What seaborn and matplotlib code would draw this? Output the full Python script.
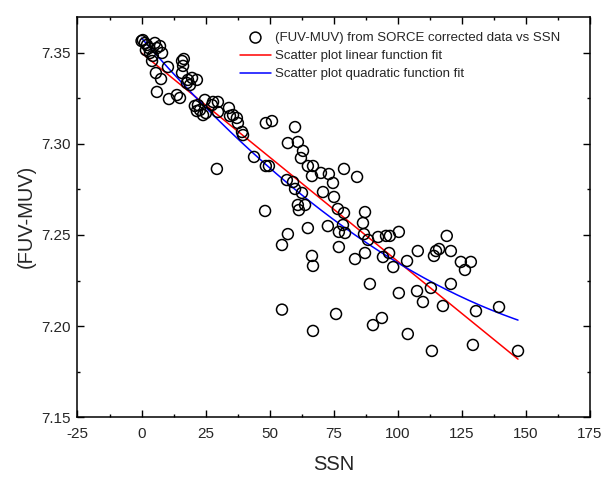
import numpy as np
import pandas as pd
import matplotlib
matplotlib.use("Agg")
import matplotlib.pyplot as plt
import seaborn as sns
from matplotlib.ticker import MultipleLocator, FormatStrFormatter

# ---- data ----
ssn = [0.0, 0.5, 1.3, 2.1, 2.9, 5.2, 7.2, 6.0, 3.3, 8.0, 4.4, 4.1, 10.3, 5.6, 7.6, 6.0, 1.7,
       15.8, 16.5, 16.2, 15.8, 19.7, 21.6, 18.1, 17.7, 18.9, 10.7, 13.8, 15.0, 24.7, 27.9, 29.8,
       27.5, 20.8, 22.0, 21.6, 22.8, 25.1, 24.0, 29.8, 34.1, 34.5, 35.7, 37.2, 37.6, 39.2, 39.6,
       43.9, 29.4, 48.5, 50.9, 59.9, 57.1, 61.0, 63.0, 62.2, 64.9, 66.9, 66.5, 70.0, 73.1, 74.7,
       79.0, 84.1, 56.7, 59.1, 59.9, 62.6, 70.8, 75.1, 48.2, 61.0, 63.8, 61.4, 76.6, 79.0, 87.2,
       86.4, 64.9, 72.7, 78.6, 77.0, 79.4, 57.1, 86.8, 88.4, 92.3, 95.4, 96.9, 100.4, 54.8, 77.0,
       87.2, 66.5, 83.3, 94.2, 96.6, 48.5, 49.7, 66.9, 89.1, 100.4, 54.8, 75.9, 66.9, 93.8, 90.3,
       103.9, 113.3, 129.3, 146.9, 119.1, 107.8, 114.9, 116.1, 120.7, 114.1, 124.6, 128.5, 126.2,
       120.7, 112.9, 107.5, 109.8, 117.6, 130.5, 139.5, 103.6, 98.2]
fuv_muv = [7.3566, 7.3571, 7.3555, 7.3544, 7.3527, 7.3555, 7.3538, 7.3527, 7.3500, 7.3500, 7.3484,
           7.3456, 7.3423, 7.3390, 7.3357, 7.3286, 7.3516,
           7.3456, 7.3467, 7.3429, 7.3390, 7.3363, 7.3352, 7.3352, 7.3335, 7.3324, 7.3247, 7.3269,
           7.3253, 7.3242, 7.3231, 7.3231, 7.3214, 7.3209, 7.3214, 7.3181, 7.3187, 7.3170, 7.3159,
           7.3176, 7.3198, 7.3154, 7.3159, 7.3143, 7.3115, 7.3066, 7.3049,
           7.2929, 7.2863, 7.3115, 7.3126, 7.3093, 7.3005, 7.3011, 7.2962, 7.2923, 7.2879, 7.2879,
           7.2824, 7.2841, 7.2835, 7.2786, 7.2863, 7.2819, 7.2802, 7.2791, 7.2753, 7.2731, 7.2736,
           7.2709, 7.2632, 7.2665, 7.2665, 7.2637, 7.2643, 7.2621, 7.2626, 7.2566, 7.2538, 7.2549,
           7.2555, 7.2517, 7.2511, 7.2505, 7.2505, 7.2473, 7.2489, 7.2495, 7.2495, 7.2517, 7.2445,
           7.2434, 7.2401, 7.2385, 7.2368, 7.2379, 7.2401, 7.2879, 7.2879, 7.2330, 7.2231, 7.2181,
           7.2090, 7.2066, 7.1973, 7.2044, 7.2005, 7.1956, 7.1863, 7.1896, 7.1863, 7.2495, 7.2412,
           7.2412, 7.2423, 7.2412, 7.2385, 7.2352, 7.2352, 7.2308, 7.2231, 7.2209, 7.2192, 7.2132,
           7.2110, 7.2082, 7.2104, 7.2357, 7.2324]

# fit coefficients (intercept, slope, quadratic term)
linear_fit = [7.3500, -0.001145]
quadratic_fit = [7.35817, -0.0016174, 3.831e-6]

labels = ["(FUV-MUV) from SORCE corrected data vs SSN",
          "Scatter plot linear function fit",
          "Scatter plot quadratic function fit"]
x_ticks = [-25, 0, 25, 50, 75, 100, 125, 150, 175]
y_ticks = [7.15, 7.20, 7.25, 7.30, 7.35]

# ---- build frames ----
df = pd.DataFrame({"SSN": ssn, "FUV_MUV": fuv_muv})
xf = np.linspace(min(ssn), max(ssn), 200)
fit_df = pd.DataFrame({
    "SSN": xf,
    "linear": linear_fit[0] + linear_fit[1] * xf,
    "quadratic": quadratic_fit[0] + quadratic_fit[1] * xf + quadratic_fit[2] * xf ** 2,
})

sns.set_style("ticks")
plt.rcParams["font.family"] = ["Liberation Sans", "DejaVu Sans"]
plt.rcParams["axes.unicode_minus"] = False

fig = plt.figure(figsize=(6.13, 4.78), dpi=100)
ax = fig.add_axes([0.1264, 0.1276, 0.8361, 0.8377])

sns.scatterplot(data=df, x="SSN", y="FUV_MUV", ax=ax, marker="o", s=62,
                facecolor="none", edgecolor="black", linewidth=1.1,
                label=labels[0], zorder=3)
sns.lineplot(data=fit_df, x="SSN", y="linear", ax=ax, color="#ff0000",
             linewidth=1.1, label=labels[1], zorder=2)
sns.lineplot(data=fit_df, x="SSN", y="quadratic", ax=ax, color="#0000ff",
             linewidth=1.1, label=labels[2], zorder=2)

ax.set_xlim(x_ticks[0], x_ticks[-1])
ax.set_ylim(7.15, 7.37)
ax.set_xticks(x_ticks)
ax.set_yticks(y_ticks)
ax.xaxis.set_minor_locator(MultipleLocator(12.5))
ax.yaxis.set_minor_locator(MultipleLocator(0.025))
ax.yaxis.set_major_formatter(FormatStrFormatter("%.2f"))

ax.tick_params(which="both", direction="in", top=True, right=True,
               width=1.0, color="black")
ax.tick_params(which="major", length=5, labelsize=11)
ax.tick_params(axis="x", which="major", pad=7)
ax.tick_params(axis="y", which="major", pad=5)
ax.tick_params(which="minor", length=2.5)
for sp in ax.spines.values():
    sp.set_visible(True)
    sp.set_linewidth(1.1)
    sp.set_color("black")

ax.set_xlabel("SSN", fontsize=14.5, labelpad=10)
ax.set_ylabel("(FUV-MUV)", fontsize=14.5, labelpad=4)

leg = ax.legend(loc="upper left", bbox_to_anchor=(0.317, 0.962), frameon=False,
                fontsize=9.5, borderaxespad=0, borderpad=0, handlelength=2.35,
                handletextpad=0.3, labelspacing=0.45)

fig.savefig("out.png", dpi=100)
